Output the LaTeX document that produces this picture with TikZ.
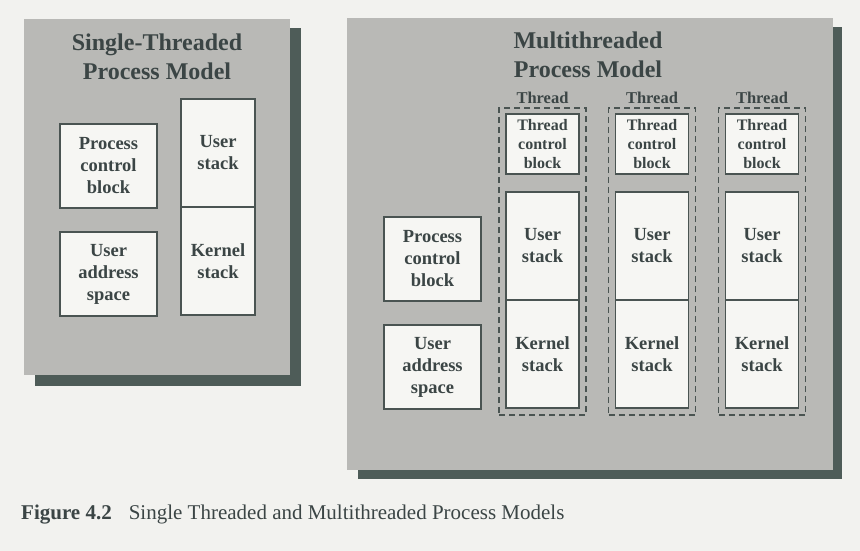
\documentclass[tikz,border=0pt]{standalone}
\usepackage{fontspec}
\setmainfont{Liberation Serif}
\definecolor{ink}{HTML}{3B4545}
\definecolor{edge}{HTML}{4A5452}
\definecolor{boxfill}{HTML}{F6F6F3}
\definecolor{panelgray}{HTML}{B9B9B6}
\definecolor{shadowgray}{HTML}{4E5C58}
\definecolor{paper}{HTML}{F2F2EF}
\begin{document}
\begin{tikzpicture}[x=1pt,y=-1pt,
  membox/.style={draw=edge,line width=1.4pt,fill=boxfill,text=ink,align=center,inner sep=0pt,
    font=\fontsize{18.5}{22}\selectfont\bfseries},
  tcbox/.style={membox,font=\fontsize{16}{19}\selectfont\bfseries},
  threadbox/.style={draw=edge,line width=1.4pt,dash pattern=on 6pt off 4pt,inner sep=0pt},
  heading/.style={text=ink,align=center,font=\fontsize{24}{29}\selectfont\bfseries}]
\useasboundingbox[fill=paper] (0,0) rectangle (860,551);
% panels with their shadows
\fill[shadowgray] (35,28) rectangle (301,386);
\fill[panelgray] (24,19) rectangle (290,375);
\fill[shadowgray] (358,27) rectangle (842,479);
\fill[panelgray] (347,18) rectangle (833,470);
% single-threaded model
\node[heading] (stitle) at (157,57) {Single-Threaded\\Process Model};
\node[membox,minimum width=97pt,minimum height=84pt] (pcbA) at (108.5,166) {Process\\control\\block};
\node[membox,minimum width=97pt,minimum height=84pt] (uasA) at (108.5,274) {User\\address\\space};
\node[membox,minimum width=74pt,minimum height=108pt] (usA) at (218,153) {User\\stack};
\node[membox,minimum width=74pt,minimum height=108pt] (ksA) at (218,261) {Kernel\\stack};
% multithreaded model
\node[heading] (mtitle) at (588,55) {Multithreaded\\Process Model};
\node[membox,minimum width=97pt,minimum height=84pt] (pcbB) at (432.5,259) {Process\\control\\block};
\node[membox,minimum width=97pt,minimum height=84pt] (uasB) at (432.5,367) {User\\address\\space};
\foreach \x/\n in {542.5/1,652/2,762/3} % edit here for the threads
{
\node[threadbox,minimum width=87pt,minimum height=307pt] (thr\n) at (\x,261.5) {};
\node[text=ink,font=\fontsize{16.5}{19}\selectfont\bfseries] (thrlabel\n) at (\x,98) {Thread};
\node[tcbox,minimum width=73pt,minimum height=60pt] (tcb\n) at (\x,144) {Thread\\control\\block};
\node[membox,minimum width=73pt,minimum height=108pt] (us\n) at (\x,246) {User\\stack};
\node[membox,minimum width=73pt,minimum height=108pt] (ks\n) at (\x,354) {Kernel\\stack};
}
% caption
\node[anchor=base west,text=ink,inner sep=0pt,font=\fontsize{21}{25}\selectfont] (caption) at (21,519)
  {\textbf{Figure 4.2}\hspace{17pt}Single Threaded and Multithreaded Process Models};
\end{tikzpicture}
\end{document}
